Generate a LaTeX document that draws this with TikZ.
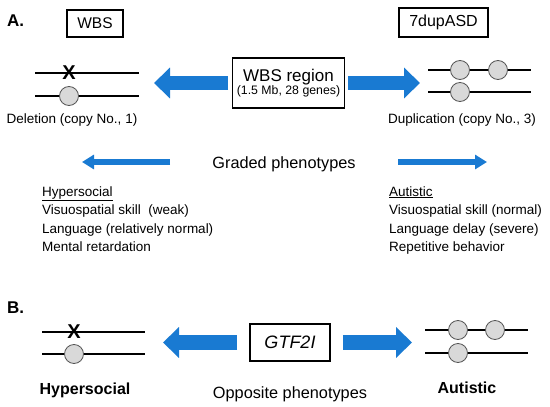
\documentclass[tikz,border=0pt]{standalone}
\usepackage{fontspec}
\setmainfont{Liberation Sans}
\usetikzlibrary{arrows.meta}
\definecolor{arrowblue}{RGB}{25,122,210}
\definecolor{genegray}{RGB}{217,217,217}
\definecolor{geneedge}{RGB}{85,85,85}
\tikzset{
  labelbox/.style={draw,line width=1.8pt,inner sep=0pt,align=center},
  bigarrow/.style={draw=arrowblue,line width=14pt,-{Triangle[length=16pt,width=30pt]}},
  thinarrow/.style={draw=arrowblue,line width=6.5pt,-{Triangle[length=12pt,width=14pt]}},
  chromline/.style={line width=1.3pt},
  gene/.style={circle,draw=geneedge,fill=genegray,line width=0.8pt,minimum size=19pt,inner sep=0pt},
  xmark/.style={font=\fontsize{20}{20}\selectfont\bfseries,inner sep=0pt},
  panel/.style={font=\fontsize{17}{17}\selectfont\bfseries,anchor=west,inner sep=0pt},
  caption/.style={font=\fontsize{13.5}{13.5}\selectfont,inner sep=0pt,anchor=base},
  listtext/.style={font=\fontsize{13.5}{13.5}\selectfont,anchor=base west,inner sep=0pt},
  boldlabel/.style={font=\fontsize{16}{16}\selectfont\bfseries,inner sep=0pt,anchor=base},
  midtext/.style={font=\fontsize{16.3}{16.3}\selectfont,inner sep=0pt,anchor=base},
}
\begin{document}
\begin{tikzpicture}[x=1pt,y=-1pt]
\useasboundingbox (0,0) rectangle (550,407);

% ---------- Panel A ----------
\node[panel] (labA) at (7,21) {A.};
\node[labelbox,minimum width=56pt,minimum height=27pt,font=\fontsize{15.5}{15.5}\selectfont] (wbs) at (95,23.5) {WBS};
\node[labelbox,minimum width=89pt,minimum height=29pt,font=\fontsize{16}{16}\selectfont] (dup) at (443.5,22.5) {7dupASD};
\node[labelbox,minimum width=112pt,minimum height=50pt] (region) at (288.5,83)
  {{\fontsize{17}{19}\selectfont WBS region}\\[-1pt]{\fontsize{12.3}{13}\selectfont (1.5 Mb, 28 genes)}};

% deletion chromosome
\draw[chromline] (35,73) coordinate (d1a) -- (139,73) coordinate (d1b);
\draw[chromline] (35,96) coordinate (d2a) -- (139,96) coordinate (d2b);
\node[xmark] (dx) at (69,73) {X};
\node[gene] (dg1) at (69,96) {};
\node[caption] (delcap) at (72,123) {Deletion (copy No., 1)};

% duplication chromosome
\draw[chromline] (428,70) coordinate (u1a) -- (531,70) coordinate (u1b);
\draw[chromline] (428,92) coordinate (u2a) -- (531,92) coordinate (u2b);
\node[gene] (ug1) at (460,70) {};
\node[gene] (ug2) at (498,70) {};
\node[gene] (ug3) at (460,92) {};
\node[caption] (dupcap) at (462,123) {Duplication (copy No., 3)};

% big arrows
\coordinate (tipAL) at (154,83);
\coordinate (tipAR) at (420,83);
\draw[bigarrow,shorten <=3.5pt] (region.west) -- (tipAL);
\draw[bigarrow,shorten <=3pt] (region.east) -- (tipAR);

% graded phenotypes
\node[midtext] (graded) at (284,168) {Graded phenotypes};
\coordinate (gl0) at (170,162);
\coordinate (gl1) at (82,162);
\coordinate (gr0) at (398,162);
\coordinate (gr1) at (487,162);
\draw[thinarrow] (gl0) -- (gl1);
\draw[thinarrow] (gr0) -- (gr1);

% lists
\node[listtext] (hyp) at (42,196) {\underline{Hypersocial}};
\node[listtext] (h1) at (42,214.5) {Visuospatial skill\ \ (weak)};
\node[listtext] (h2) at (42,233) {Language (relatively normal)};
\node[listtext] (h3) at (42,251.5) {Mental retardation};
\node[listtext] (aut) at (389,196) {\underline{Autistic}};
\node[listtext] (a1) at (389,214.5) {Visuospatial skill (normal)};
\node[listtext] (a2) at (389,233) {Language delay (severe)};
\node[listtext] (a3) at (389,251.5) {Repetitive behavior};

% ---------- Panel B ----------
\node[panel] (labB) at (7,308) {B.};
\node[labelbox,minimum width=80pt,minimum height=37pt,font=\fontsize{18}{18}\selectfont\itshape] (gtf) at (290,342.5) {GTF2I};

\draw[chromline] (42,332) coordinate (b1a) -- (145,332) coordinate (b1b);
\draw[chromline] (42,354) coordinate (b2a) -- (145,354) coordinate (b2b);
\node[xmark] (bx) at (74,332) {X};
\node[gene] (bg1) at (74,354) {};
\node[boldlabel] (bhyp) at (85,394) {Hypersocial};

\draw[chromline] (425,330) coordinate (c1a) -- (528,330) coordinate (c1b);
\draw[chromline] (425,353) coordinate (c2a) -- (528,353) coordinate (c2b);
\node[gene] (cg1) at (458,330) {};
\node[gene] (cg2) at (495,330) {};
\node[gene] (cg3) at (458,353) {};
\node[boldlabel] (baut) at (467,393) {Autistic};

\node[midtext] (opp) at (290,398) {Opposite phenotypes};

\coordinate (tipBL) at (163,342.5);
\coordinate (tipBR) at (412,342.5);
\draw[bigarrow,line width=15pt,shorten <=12pt] (gtf.west) -- (tipBL);
\draw[bigarrow,line width=15pt,shorten <=12pt] (gtf.east) -- (tipBR);
\end{tikzpicture}
\end{document}
